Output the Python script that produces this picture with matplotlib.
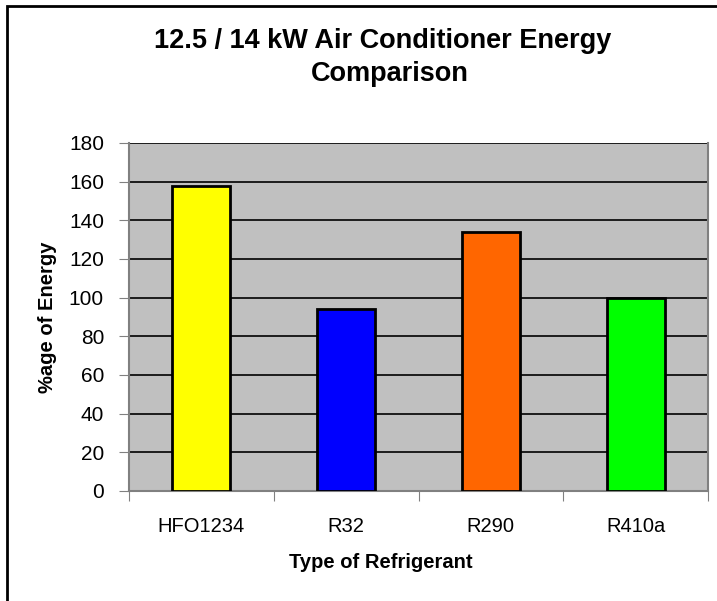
import matplotlib.pyplot as plt
from matplotlib.patches import Rectangle

plt.rcParams['font.family'] = ['Liberation Sans', 'DejaVu Sans']

refrigerants = ['HFO1234', 'R32', 'R290', 'R410a']
energy = [158, 94, 134, 100]
bar_colors = ['#ffff00', '#0000ff', '#ff6600', '#00ff00']

fig = plt.figure(figsize=(7.17, 6.01), dpi=100)
ax = fig.add_axes([129 / 717, 110 / 601, 579 / 717, 348 / 601])

x = range(len(refrigerants))
ax.bar(x, energy, width=0.4, color=bar_colors, edgecolor='black', linewidth=2, zorder=3)

ax.set_facecolor('#c0c0c0')
ax.set_xlim(-0.5, 3.5)
ax.set_ylim(0, 180)
ax.set_yticks(range(0, 181, 20))
ax.yaxis.grid(True, color='black', linewidth=1.2, zorder=1)
ax.set_xticks([i + 0.5 for i in range(-1, 4)], minor=False)
ax.set_xticklabels([])
ax.set_xticks(list(x), minor=True)
ax.set_xticklabels(refrigerants, minor=True, fontsize=14.5)
ax.tick_params(axis='x', which='minor', length=0, pad=19)
ax.tick_params(axis='x', which='major', length=7, color='#808080', direction='out')
ax.tick_params(axis='y', length=7, color='#808080', labelsize=15, pad=11)

for s in ['left', 'bottom', 'right', 'top']:
    ax.spines[s].set_color('#808080')
    ax.spines[s].set_linewidth(1.5)
ax.spines['top'].set_visible(False)

ax.set_xlabel('Type of Refrigerant', fontsize=14.5, fontweight='bold')
ax.set_ylabel('%age of Energy', fontsize=14.5, fontweight='bold')
ax.xaxis.set_label_coords((381 - 129) / 579, -(553 - 491) / 348)
ax.yaxis.set_label_coords(-(129 - 57) / 579, 0.5)

fig.text(383 / 717, 1 - 48 / 601, '12.5 / 14 kW Air Conditioner Energy',
         ha='center', va='baseline', fontsize=19.5, fontweight='bold')
fig.text(390 / 717, 1 - 81 / 601, 'Comparison',
         ha='center', va='baseline', fontsize=19.5, fontweight='bold')

fig.patches.append(Rectangle((7 / 717, -0.1), 1.1, 1 - 6 / 601 + 0.1, transform=fig.transFigure,
                             fill=False, edgecolor='black', linewidth=2))

fig.savefig('out.png', dpi=100)
